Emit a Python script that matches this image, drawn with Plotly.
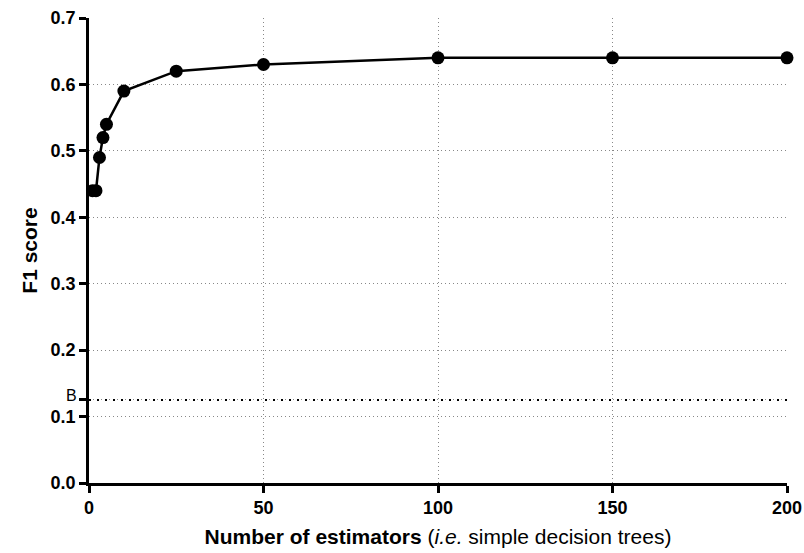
import plotly.graph_objects as go

n_estimators = [1, 2, 3, 4, 5, 10, 25, 50, 100, 150, 200]
f1_scores = [0.44, 0.44, 0.49, 0.52, 0.54, 0.59, 0.62, 0.63, 0.64, 0.64, 0.64]
baseline = 0.125
x_ticks = [0, 50, 100, 150, 200]
y_ticks = [0.0, 0.1, 0.2, 0.3, 0.4, 0.5, 0.6, 0.7]
y_ticklabels = ["0.0", "0.1", "0.2", "0.3", "0.4", "0.5", "0.6", "0.7"]

font = "Liberation Sans, Arial, sans-serif"

fig = go.Figure()
fig.add_trace(go.Scatter(
    x=n_estimators, y=f1_scores, mode="lines+markers",
    line=dict(color="black", width=2.5),
    marker=dict(color="black", size=13),
    cliponaxis=False, showlegend=False,
))

fig.add_shape(type="line", xref="x", yref="y", x0=0, x1=200, y0=baseline, y1=baseline,
              line=dict(color="black", width=2, dash="2px,6px"), layer="above")

fig.add_annotation(text="B", xref="paper", x=0, yref="y", y=baseline,
                   xanchor="right", yanchor="middle", xshift=-11, yshift=4,
                   showarrow=False, borderpad=0, font=dict(size=16, family=font, color="black"))

fig.update_layout(
    width=804, height=553,
    margin=dict(l=89, r=17, t=18, b=70),
    plot_bgcolor="white", paper_bgcolor="white",
    font=dict(family=font, color="black"),
    xaxis=dict(
        range=[0, 200], tickvals=x_ticks, ticktext=[f"<b>{v}</b>" for v in x_ticks],
        showline=True, linecolor="black", linewidth=2.5,
        ticks="outside", ticklen=7, tickwidth=2.5, tickcolor="black",
        showgrid=True, gridcolor="#888888", griddash="1px,3px", gridwidth=1,
        tickfont=dict(size=18, family=font), automargin=False,
        title=dict(text="<b>Number of estimators</b> (<i>i.e.</i> simple decision trees)",
                   font=dict(size=21, family=font), standoff=12),
        zeroline=False,
    ),
    yaxis=dict(
        range=[0, 0.7],
        tickvals=y_ticks + [baseline],
        ticktext=[f"<b>{t}</b>" for t in y_ticklabels] + [""],
        showline=True, linecolor="black", linewidth=2.5,
        ticks="outside", ticklen=7, tickwidth=2.5, tickcolor="black",
        showgrid=True, gridcolor="#888888", griddash="1px,3px", gridwidth=1,
        tickfont=dict(size=18, family=font), automargin=False,
        title=dict(text="<b>F1 score</b>", font=dict(size=21, family=font), standoff=8),
        zeroline=False,
    ),
)

fig.write_html("out.html")
